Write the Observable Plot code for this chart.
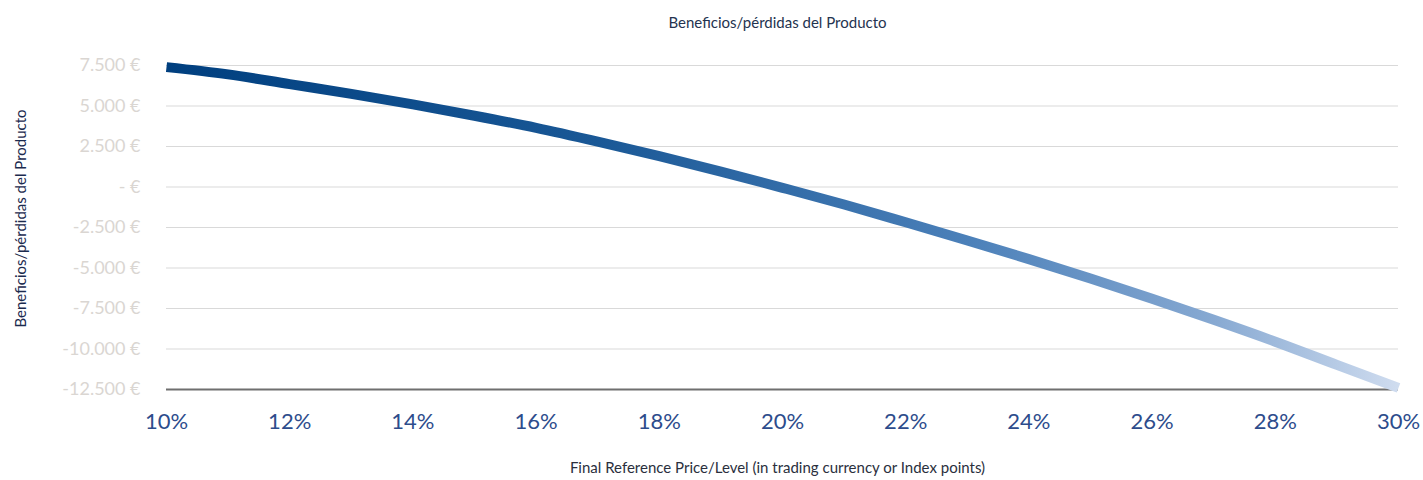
<!DOCTYPE html>
<html>
<head>
<meta charset="utf-8">
<script src="https://cdn.jsdelivr.net/npm/d3@7"></script>
<script src="https://cdn.jsdelivr.net/npm/@observablehq/plot@0.6"></script>
<style>
  html, body { margin: 0; padding: 0; background: #fff; }
  body { width: 1423px; height: 480px; overflow: hidden; font-family: Lato, "Open Sans", sans-serif; }
  #title { height: 36px; line-height: 44px; text-align: center; font-size: 15px; color: #24334f; padding-left: 132px; box-sizing: border-box; }
  #xlabel { text-align: center; font-size: 15px; color: #2a2f3d; margin-top: 19px; padding-left: 132px; box-sizing: border-box; }
</style>
</head>
<body>
<div id="title">Beneficios/pérdidas del Producto</div>
<div id="chart"></div>
<div id="xlabel">Final Reference Price/Level (in trading currency or Index points)</div>
<script>
// Final reference level (%) and product profit/loss (€)
const levels = [10, 11, 12, 13, 14, 15, 16, 17, 18, 19, 20, 21, 22, 23, 24, 25, 26, 27, 28, 29, 30];
const profit = [7400, 6950, 6350, 5750, 5100, 4400, 3650, 2800, 1900, 950, -50, -1080, -2180, -3300, -4450, -5650, -6900, -8200, -9550, -10980, -12400];
const yTicks = [7500, 5000, 2500, 0, -2500, -5000, -7500, -10000, -12500];
const xTicks = [10, 12, 14, 16, 18, 20, 22, 24, 26, 28, 30];
const yLabel = "Beneficios/pérdidas del Producto";

const data = levels.map((x, i) => ({x, y: profit[i]}));

const fmtEuro = v => v === 0 ? "- €" : d3.format(",.0f")(v).replace(/,/g, ".").replace("−", "-") + " €";

const plot = Plot.plot({
  width: 1423,
  height: 403,
  marginLeft: 166,
  marginRight: 25,
  marginTop: 29,
  marginBottom: 50,
  style: {fontFamily: "Lato, 'Open Sans', sans-serif", background: "#fff", overflow: "visible"},
  x: {domain: [10, 30], axis: null},
  y: {domain: [-12500, 7500], axis: null},
  marks: [
    Plot.gridY(yTicks.filter(t => t !== -12500), {stroke: "#d9d9d9", strokeOpacity: 1, strokeWidth: 1}),
    Plot.ruleY([-12500], {stroke: "#6f6f6f", strokeWidth: 2}),
    Plot.axisY({ticks: yTicks, tickSize: 0, tickPadding: 26, tickFormat: fmtEuro, fontSize: 18, color: "#dad6d2", label: null}),
    Plot.axisX({ticks: xTicks, tickSize: 0, tickPadding: 24, tickFormat: d => d + "%", fontSize: 22, color: "#2d4c8c", label: null}),
    Plot.text([yLabel], {frameAnchor: "left", textAnchor: "middle", rotate: -90, dx: -145, dy: -9, fontSize: 15, fill: "#1b2a4e"}),
    Plot.line(data, {x: "x", y: "y", stroke: "url(#pnlGrad)", strokeWidth: 10, curve: "monotone-x", strokeLinecap: "butt"})
  ]
});

const defs = d3.select(plot).insert("defs", ":first-child");
const grad = defs.append("linearGradient").attr("id", "pnlGrad").attr("x1", "0%").attr("x2", "100%").attr("y1", "0%").attr("y2", "0%");
grad.append("stop").attr("offset", "0%").attr("stop-color", "#003f7f");
grad.append("stop").attr("offset", "35%").attr("stop-color", "#1a5896");
grad.append("stop").attr("offset", "65%").attr("stop-color", "#4b80b9");
grad.append("stop").attr("offset", "85%").attr("stop-color", "#87a9d2");
grad.append("stop").attr("offset", "100%").attr("stop-color", "#cfdcef");

document.getElementById("chart").appendChild(plot);
</script>
</body>
</html>
